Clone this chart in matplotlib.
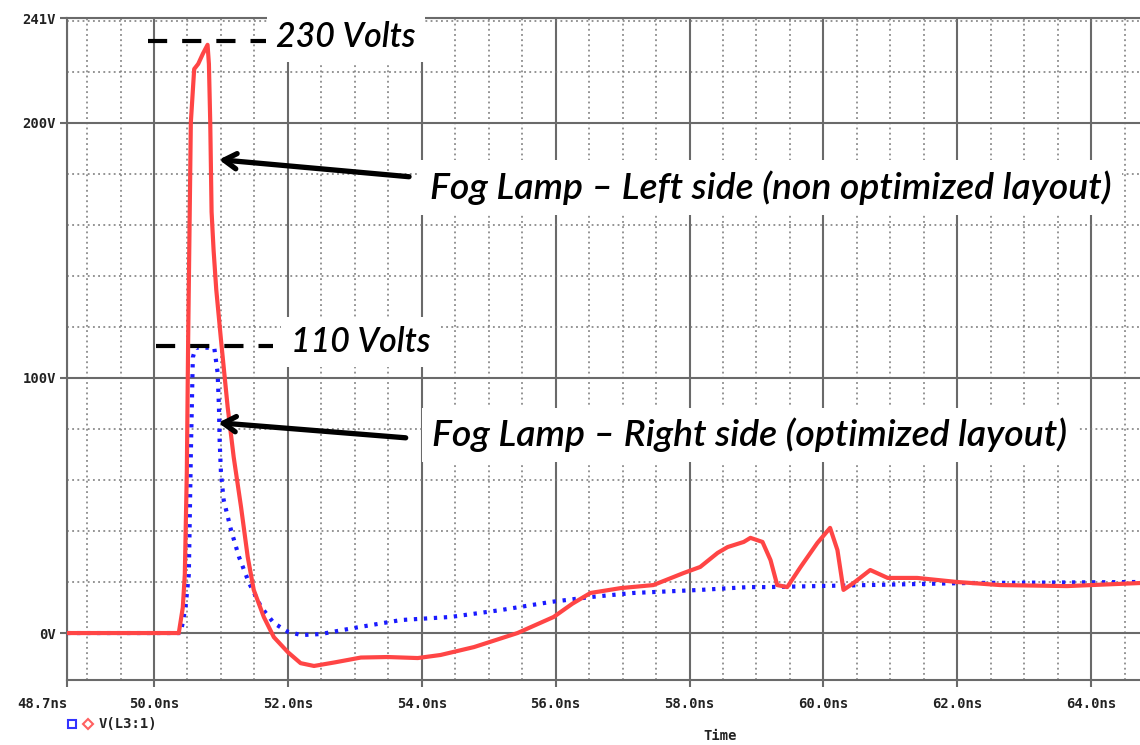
import matplotlib
matplotlib.use("Agg")
import matplotlib.pyplot as plt
from matplotlib.lines import Line2D
import numpy as np

# ---------------- data ----------------
red_t = [48.7, 50.37, 50.43, 50.46, 50.49, 50.51, 50.55, 50.60, 50.66, 50.73, 50.80,
         50.82, 50.84, 50.86, 50.89, 50.93, 51.00, 51.10, 51.19, 51.30, 51.40, 51.49,
         51.64, 51.79, 52.00, 52.19, 52.39, 52.70, 53.09, 53.49, 53.94, 54.28, 54.78,
         55.43, 55.97, 56.25, 56.52, 56.97, 57.46, 57.91, 58.16, 58.42, 58.57, 58.81, 58.91,
         59.09, 59.21, 59.31, 59.46, 59.66, 59.91, 60.10, 60.21, 60.30, 60.45, 60.70,
         60.96, 61.40, 62.00, 62.64, 63.64, 64.73]
red_v = [0, 0, 10, 23, 63, 115, 200, 221, 223, 227, 230.5,
         223, 200, 165, 150, 134.5, 115, 88.6, 69, 49.4, 29.8, 16.9,
         6.3, -1.6, -7.5, -11.8, -12.9, -11.5, -9.6, -9.4, -9.8, -8.6, -5.5,
         0, 6.3, 11.5, 15.7, 17.6, 18.8, 23.5, 25.9, 31.4, 33.7, 35.7, 37.3,
         35.7, 28.6, 18.8, 18, 25.9, 35.3, 41.2, 32.5, 16.9, 19.6, 24.7,
         21.6, 21.6, 20, 18.8, 18.4, 19.6]

blue_t = [48.7, 50.40, 50.47, 50.52, 50.55, 50.58, 50.62, 50.90, 50.95, 50.97, 50.98,
          51.00, 51.04, 51.15, 51.27, 51.42, 51.60, 51.79, 52.00, 52.20, 52.49, 52.99,
          53.69, 54.43, 55.18, 55.93, 56.52, 57.16, 58.16, 58.87, 59.16, 60.66, 62.15,
          64.73]
blue_v = [0, 0, 10, 23, 70, 108, 111.8, 111.8, 102, 88.6, 75.7,
          62.7, 52.2, 40.4, 29.8, 19.6, 10.2, 3.9, 0.5, -0.8, -0.4, 2,
          5.1, 6.3, 9, 12.2, 14.1, 15.7, 16.9, 18, 18, 18.8, 19.6,
          20]

x_major = [48.7, 50.0, 52.0, 54.0, 56.0, 58.0, 60.0, 62.0, 64.0]
x_labels = ["48.7ns", "50.0ns", "52.0ns", "54.0ns", "56.0ns", "58.0ns", "60.0ns", "62.0ns", "64.0ns"]
y_major = [0, 100, 200, 241]
y_labels = ["0V", "100V", "200V", "241V"]
x_minor = [v for v in np.arange(49.0, 64.75, 0.5) if v % 2 != 0]
y_minor = [v for v in range(20, 241, 20) if v % 100 != 0]

legend_label = "V(L3:1)"
peak_labels = ["230 Volts", "110 Volts"]
peak_levels = [232, 112.5]
series_labels = ["Fog Lamp \u2013 Left side (non optimized layout)",
                 "Fog Lamp \u2013 Right side (optimized layout)"]

# ---------------- figure ----------------
W, H = 1140, 745
fig = plt.figure(figsize=(W / 100, H / 100), dpi=100)
ax = fig.add_axes([67 / W, 65 / H, (W - 67) / W, (680 - 18) / H])
ax.set_xlim(48.7, 64.73)
ax.set_ylim(-18.4, 241)

mono = dict(family="DejaVu Sans Mono", weight="bold", size=10)
gcol = "#6a6a6a"

ax.set_xticks(x_major)
ax.set_xticklabels(x_labels, fontdict=mono, color="#222222")
ax.set_yticks(y_major)
ax.set_yticklabels(y_labels, fontdict=mono, color="#222222")
ax.set_xticks(x_minor, minor=True)
ax.set_yticks(y_minor, minor=True)
ax.tick_params(axis="x", which="major", length=5, width=1.5, color=gcol, pad=7)
ax.tick_params(axis="y", which="major", length=5, width=1.5, color=gcol, pad=3)
ax.tick_params(which="minor", length=0)
ax.xaxis.get_majorticklabels()[0].set_ha("right")

ax.grid(which="major", color=gcol, lw=1.5, ls="-")
ax.grid(which="minor", color="#777777", lw=1.1, ls=(0, (1.2, 2.2)))
ax.set_axisbelow(True)
for s in ["left", "bottom", "top"]:
    ax.spines[s].set_color(gcol)
    ax.spines[s].set_linewidth(1.5)
ax.spines["right"].set_visible(False)

# curves
ax.plot(blue_t, blue_v, color="#1a1aff", lw=3.0, ls=(0, (0.8, 1.6)),
        solid_capstyle="butt", dash_capstyle="butt", zorder=4)
ax.plot(red_t, red_v, color="#ff4545", lw=3.0, zorder=5,
        solid_joinstyle="round", solid_capstyle="round")

# dashed peak markers
ax.plot([49.91, 51.67], [peak_levels[0]] * 2, color="black", lw=3,
        ls=(0, (4.6, 3.6)), dash_capstyle="butt", zorder=6, clip_on=False)
ax.plot([50.03, 51.78], [peak_levels[1]] * 2, color="black", lw=3,
        ls=(0, (4.6, 3.6)), dash_capstyle="butt", zorder=6)

# arrows
for tip, tail in [((50.97, 185.5), (53.81, 178.8)), ((50.96, 82.4), (53.76, 76.5))]:
    ax.annotate("", xy=tip, xytext=tail,
                arrowprops=dict(arrowstyle="->,head_length=0.9,head_width=0.55",
                                lw=3.8, color="black", shrinkA=0, shrinkB=0),
                zorder=7)

# annotation texts (italic), fitted to reference widths
ann_font = dict(family=["Lato", "DejaVu Sans"], style="italic", weight="semibold")
texts = [
    (peak_labels[0], 51.82, 233.7, 140),
    (peak_labels[1], 52.04, 114.1, 140),
    (series_labels[0], 54.13, 174.5, 682),
    (series_labels[1], 54.16, 77.6, 636),
]
fig.canvas.draw()
renderer = fig.canvas.get_renderer()
for s, x, y, target in texts:
    t = ax.text(x, y, s, fontsize=26, va="center", ha="left", color="black",
                zorder=8, **ann_font,
                bbox=dict(facecolor="white", edgecolor="none", pad=7))
    w = t.get_window_extent(renderer).width
    t.set_fontsize(26 * target / w)

# legend row below the axis
fig.add_artist(Line2D([72 / W], [(H - 724) / H], transform=fig.transFigure,
                      marker="s", ms=6, mfc="none", mec="#3333ff", mew=1.5, ls="none"))
fig.add_artist(Line2D([88 / W], [(H - 724) / H], transform=fig.transFigure,
                      marker="D", ms=5.5, mfc="none", mec="#ff6060", mew=1.5, ls="none"))
fig.text(99 / W, (H - 724) / H, legend_label, va="center", ha="left",
         color="#222222", **mono)
fig.text(720 / W, 2 / H, "Time", va="bottom", ha="center",
         color="#222222", **mono)

fig.savefig("out.png", dpi=100, facecolor="white")
